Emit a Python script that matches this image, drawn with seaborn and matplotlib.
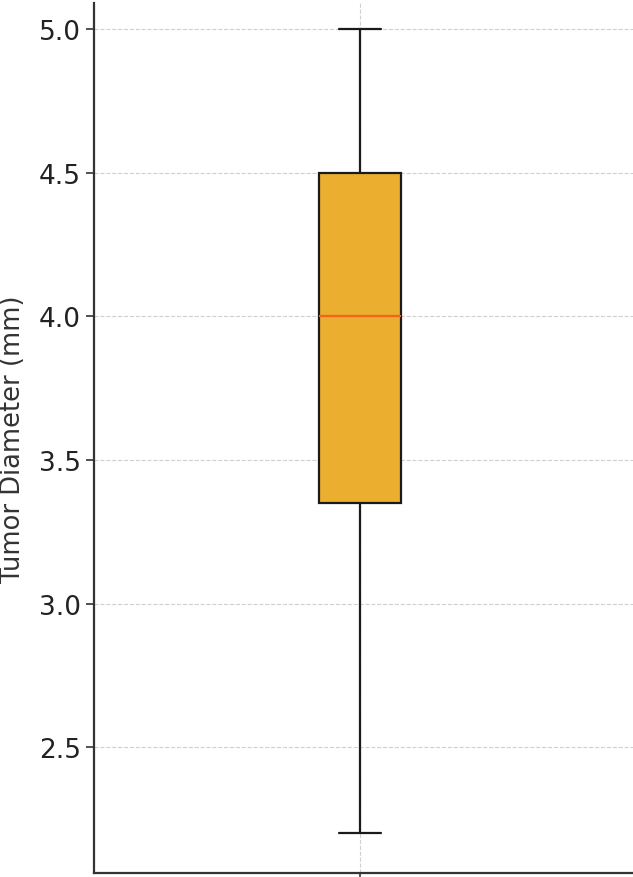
import matplotlib
matplotlib.use("Agg")
import matplotlib.pyplot as plt
import seaborn as sns
import pandas as pd

diameters = [2.2, 3.35, 4.0, 4.5, 5.0]
yticks = [2.5, 3.0, 3.5, 4.0, 4.5, 5.0]

df = pd.DataFrame({"Tumor Diameter (mm)": diameters})

sns.set_style("white")
plt.rcParams["font.family"] = ["DejaVu Sans"]

fig = plt.figure(figsize=(6.33, 8.78), dpi=100)
ax = fig.add_axes([94 / 633, 4 / 878, (633 - 94) / 633, (874 - 4) / 878])

sns.boxplot(
    data=df, y="Tumor Diameter (mm)", ax=ax, width=0.156,
    color="#EBAE2F", saturation=1, linewidth=1.6, linecolor="#1a1a1a",
    whis=1.5,
    medianprops=dict(color="#F2651E", linewidth=1.6),
    capprops=dict(color="#1a1a1a", linewidth=1.6),
    whiskerprops=dict(color="#1a1a1a", linewidth=1.6),
    boxprops=dict(edgecolor="#1a1a1a", linewidth=1.6),
)

ax.set_xlim(-0.5, 0.5 * (633 - 360) / (360 - 94))
ax.set_ylim(2.0625, 5.09)
ax.set_yticks(yticks)
ax.set_yticklabels([f"{v:.1f}" for v in yticks])
ax.set_xticks([0])
ax.set_xticklabels([""])
ax.grid(True, linestyle="--", color="#d0d0d0", linewidth=0.8)
ax.set_axisbelow(True)
for s in ["top", "right"]:
    ax.spines[s].set_visible(False)
for s in ["left", "bottom"]:
    ax.spines[s].set_color("#333333")
    ax.spines[s].set_linewidth(1.6)
ax.tick_params(axis="y", labelsize=19, colors="#333333", length=6, width=1.2, left=True, labelcolor="#222222")
ax.tick_params(axis="x", length=6, width=1.2, colors="#333333", bottom=True)
ax.set_ylabel("Tumor Diameter (mm)", fontsize=18.5, color="#333333", labelpad=9)
ax.set_xlabel("")

fig.savefig("out.png", dpi=100)
